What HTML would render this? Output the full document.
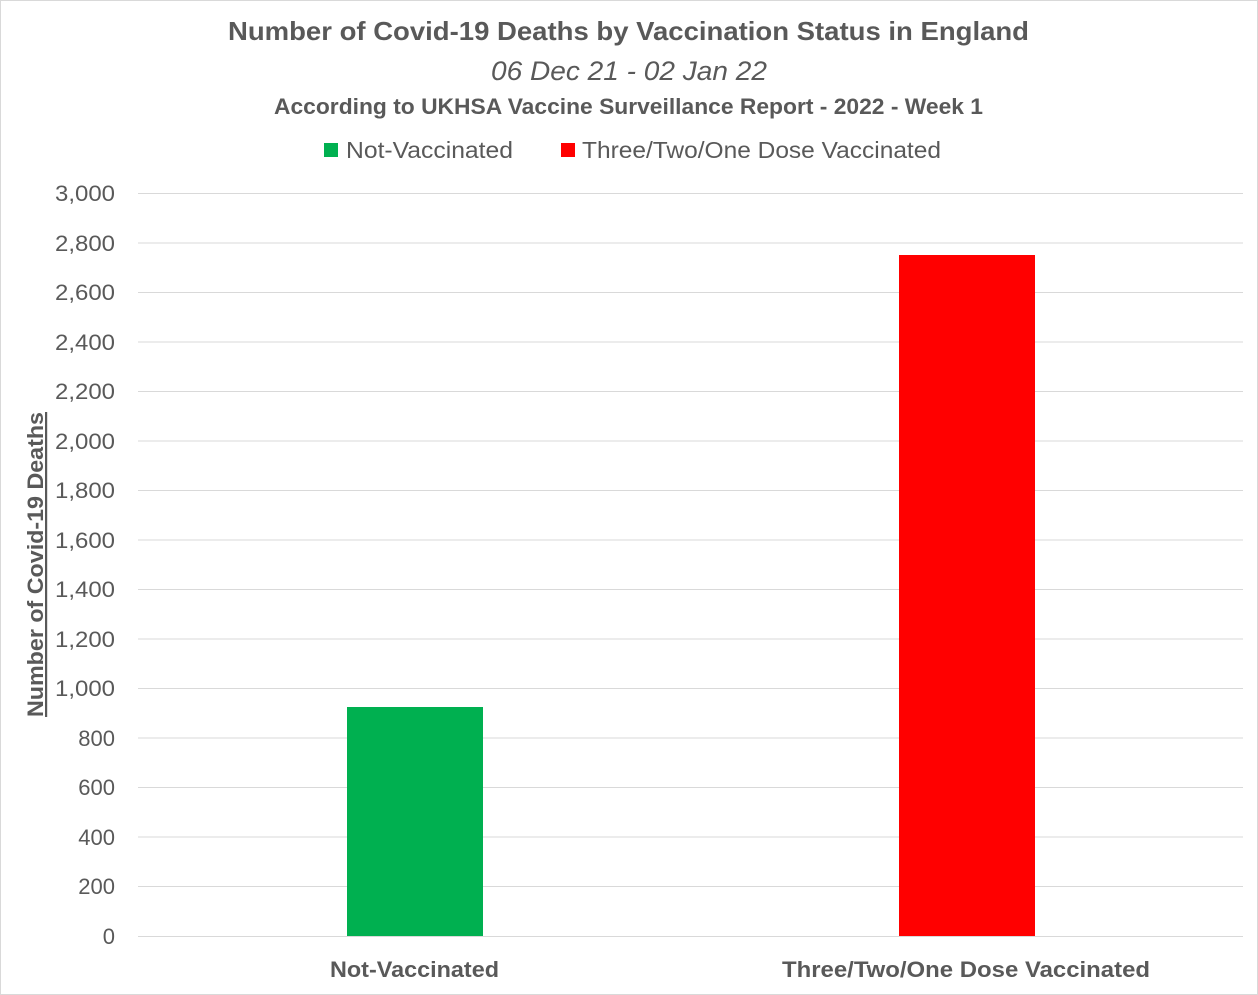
<!DOCTYPE html>
<html><head><style>
body{margin:0;background:#fff;}
svg{display:block;font-family:"Liberation Sans",sans-serif;}
</style></head><body>
<svg width="1258" height="995" xmlns="http://www.w3.org/2000/svg">
<rect x="0.5" y="0.5" width="1257" height="994" fill="#fff" stroke="#d9d9d9"/>
<g fill="#595959">
<text x="228" y="40" font-size="26" font-weight="bold" textLength="801" lengthAdjust="spacingAndGlyphs">Number of Covid-19 Deaths by Vaccination Status in England</text>
<text x="491" y="80" font-size="27" font-style="italic" textLength="276" lengthAdjust="spacingAndGlyphs">06 Dec 21 - 02 Jan 22</text>
<text x="274" y="114" font-size="22" font-weight="bold" textLength="709" lengthAdjust="spacingAndGlyphs">According to UKHSA Vaccine Surveillance Report - 2022 - Week 1</text>
</g>
<rect x="324" y="143" width="14" height="14" fill="#00b050"/>
<text x="346" y="158" font-size="23" fill="#595959" textLength="167" lengthAdjust="spacingAndGlyphs">Not-Vaccinated</text>
<rect x="561" y="143" width="14" height="14" fill="#ff0000"/>
<text x="582" y="158" font-size="23" fill="#595959" textLength="359" lengthAdjust="spacingAndGlyphs">Three/Two/One Dose Vaccinated</text>
<g stroke="#d9d9d9" stroke-width="1">
<line x1="138" x2="1243" y1="193.5" y2="193.5"/><line x1="138" x2="1243" y1="243" y2="243"/>
<line x1="138" x2="1243" y1="292.5" y2="292.5"/><line x1="138" x2="1243" y1="342" y2="342"/>
<line x1="138" x2="1243" y1="391.5" y2="391.5"/><line x1="138" x2="1243" y1="441" y2="441"/>
<line x1="138" x2="1243" y1="490.5" y2="490.5"/><line x1="138" x2="1243" y1="540" y2="540"/>
<line x1="138" x2="1243" y1="589.5" y2="589.5"/><line x1="138" x2="1243" y1="639" y2="639"/>
<line x1="138" x2="1243" y1="688.5" y2="688.5"/><line x1="138" x2="1243" y1="738" y2="738"/>
<line x1="138" x2="1243" y1="787.5" y2="787.5"/><line x1="138" x2="1243" y1="837" y2="837"/>
<line x1="138" x2="1243" y1="886.5" y2="886.5"/><line x1="138" x2="1243" y1="936.5" y2="936.5"/>
</g>
<g fill="#595959" font-size="22" text-anchor="end">
<text x="115" y="201" textLength="60" lengthAdjust="spacingAndGlyphs">3,000</text><text x="115" y="251" textLength="60" lengthAdjust="spacingAndGlyphs">2,800</text><text x="115" y="300" textLength="60" lengthAdjust="spacingAndGlyphs">2,600</text>
<text x="115" y="350" textLength="60" lengthAdjust="spacingAndGlyphs">2,400</text><text x="115" y="399" textLength="60" lengthAdjust="spacingAndGlyphs">2,200</text><text x="115" y="449" textLength="60" lengthAdjust="spacingAndGlyphs">2,000</text>
<text x="115" y="498" textLength="60" lengthAdjust="spacingAndGlyphs">1,800</text><text x="115" y="548" textLength="60" lengthAdjust="spacingAndGlyphs">1,600</text><text x="115" y="597" textLength="60" lengthAdjust="spacingAndGlyphs">1,400</text>
<text x="115" y="647" textLength="60" lengthAdjust="spacingAndGlyphs">1,200</text><text x="115" y="696" textLength="60" lengthAdjust="spacingAndGlyphs">1,000</text><text x="115" y="746">800</text>
<text x="115" y="795">600</text><text x="115" y="845">400</text><text x="115" y="894">200</text>
<text x="115" y="944">0</text>
</g>
<rect x="347" y="707" width="136" height="229" fill="#00b050"/>
<rect x="899" y="255" width="136" height="681" fill="#ff0000"/>
<g fill="#595959" font-size="22" font-weight="bold">
<text x="330" y="977" textLength="169" lengthAdjust="spacingAndGlyphs">Not-Vaccinated</text>
<text x="782" y="977" textLength="368" lengthAdjust="spacingAndGlyphs">Three/Two/One Dose Vaccinated</text>
<text transform="translate(43,717) rotate(-90)" text-decoration="underline" textLength="305" lengthAdjust="spacingAndGlyphs">Number of Covid-19 Deaths</text>
</g>
</svg>
</body></html>
